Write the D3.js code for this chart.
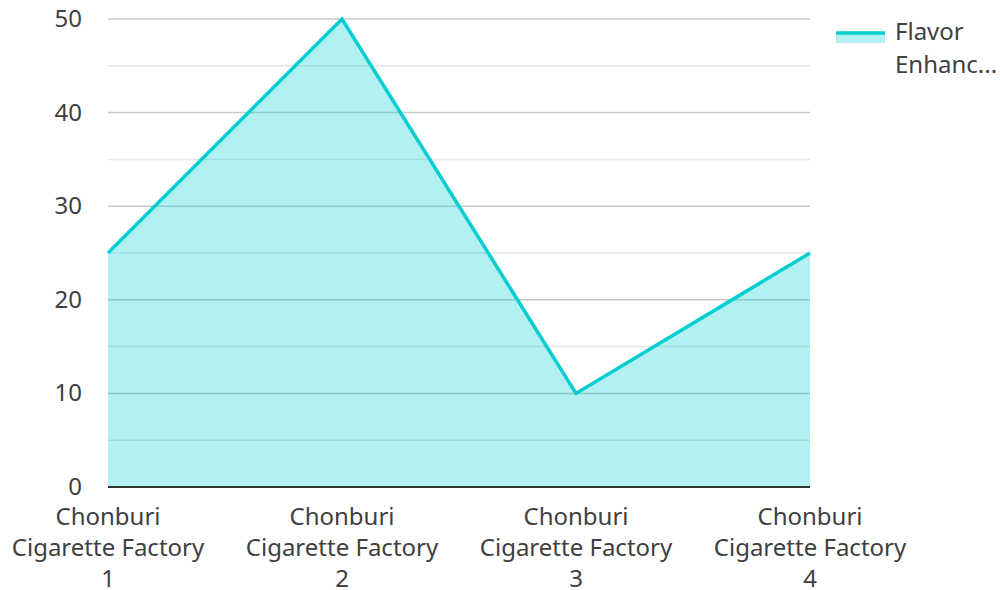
<!DOCTYPE html>
<html><head><meta charset="utf-8">
<script src="https://cdn.jsdelivr.net/npm/d3@7"></script>
<style>body{margin:0;background:#fff}svg{display:block}text{font-family:"Noto Sans",sans-serif;fill:#404040}</style>
</head><body><svg id="c" width="1000" height="590"></svg>
<script>
const categories = ["Chonburi Cigarette Factory 1","Chonburi Cigarette Factory 2","Chonburi Cigarette Factory 3","Chonburi Cigarette Factory 4"];
const categoryLines = [["Chonburi","Cigarette Factory","1"],["Chonburi","Cigarette Factory","2"],["Chonburi","Cigarette Factory","3"],["Chonburi","Cigarette Factory","4"]];
const values = [25, 50, 10, 25];
const seriesName = "Flavor Enhanc...";
const majorTicks = [0,10,20,30,40,50];
const minorTicks = [5,15,25,35,45];

const svg = d3.select("#c");
const L=108, R=810, T=19, B=487;
const x = d3.scalePoint().domain(categories).range([L,R]);
const y = d3.scaleLinear().domain([0,50]).range([B,T]);
const color = "#00CED1";

svg.append("g").selectAll("line").data(minorTicks).join("line")
  .attr("x1",L).attr("x2",R).attr("y1",d=>y(d)).attr("y2",d=>y(d))
  .attr("stroke","#e6e6e6").attr("stroke-width",1.5);
svg.append("g").selectAll("line").data(majorTicks.filter(d=>d>0)).join("line")
  .attr("x1",L).attr("x2",R).attr("y1",d=>y(d)).attr("y2",d=>y(d))
  .attr("stroke","#c8c8c8").attr("stroke-width",1.5);

svg.append("path").datum(values)
  .attr("d", d3.area().x((d,i)=>x(categories[i])).y0(y(0)).y1(d=>y(d)))
  .attr("fill",color).attr("fill-opacity",0.3);
svg.append("path").datum(values)
  .attr("d", d3.line().x((d,i)=>x(categories[i])).y(d=>y(d)))
  .attr("fill","none").attr("stroke",color).attr("stroke-width",3.5).attr("stroke-linejoin","miter");

svg.append("line").attr("x1",L).attr("x2",R).attr("y1",B).attr("y2",B).attr("stroke","#333").attr("stroke-width",2);

svg.append("g").selectAll("text").data(majorTicks).join("text")
  .attr("x",82).attr("y",d=>y(d)+8).attr("text-anchor","end").attr("font-size",24).text(d=>d);

const xl = svg.append("g").selectAll("g").data(categories).join("g")
  .attr("transform",d=>`translate(${x(d)},0)`);
xl.each(function(d,i){
  d3.select(this).selectAll("text").data(categoryLines[i]).join("text")
    .attr("x",0).attr("y",(t,j)=>525+j*31).attr("text-anchor","middle").attr("font-size",24).text(t=>t);
});

const lg = svg.append("g");
lg.append("rect").attr("x",836).attr("y",33).attr("width",49).attr("height",10).attr("fill",color).attr("fill-opacity",0.3);
lg.append("line").attr("x1",836).attr("x2",885).attr("y1",33).attr("y2",33).attr("stroke",color).attr("stroke-width",3.5);
const words = seriesName.split(" ");
lg.selectAll("text").data(words).join("text")
  .attr("x",895).attr("y",(d,i)=>40+i*33).attr("font-size",24).text(d=>d);
</script></body></html>
